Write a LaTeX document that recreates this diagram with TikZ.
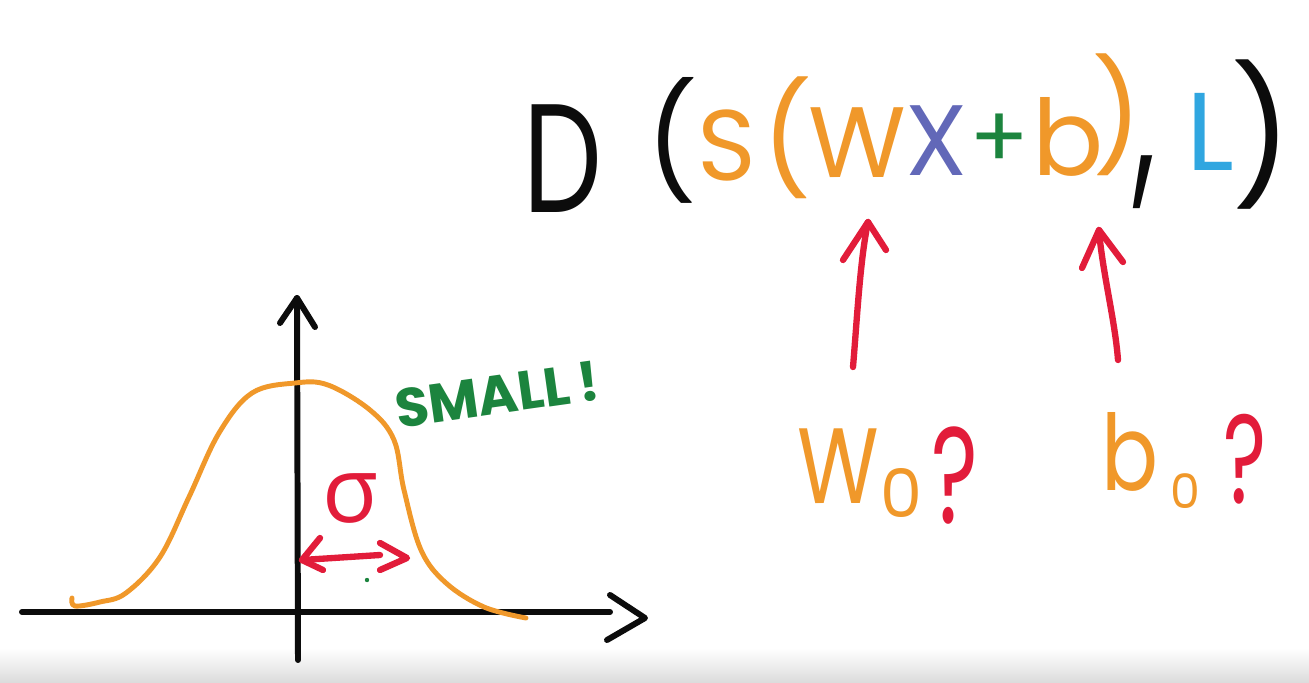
\documentclass[tikz,border=0pt]{standalone}
\usepackage{fontspec}
\setmainfont{Poppins}
\newfontfamily\greekfont{Open Sans}
\definecolor{cOrange}{RGB}{240,152,42}
\definecolor{cRed}{RGB}{226,28,58}
\definecolor{cGreen}{RGB}{28,132,62}
\definecolor{cPurple}{RGB}{98,104,184}
\definecolor{cBlue}{RGB}{48,166,224}
\definecolor{cInk}{RGB}{12,12,12}
\tikzset{
  glyph/.style={inner sep=0pt, outer sep=0pt, anchor=base},
  ink/.style={line width=3.4pt, line cap=round, line join=round, draw=cInk},
  bell/.style={line width=2.8pt, line cap=round, line join=round, draw=cOrange},
  redline/.style={line width=3.6pt, line cap=round, line join=round, draw=cRed},
}
\newcommand{\fs}[1]{\fontsize{#1}{#1}\selectfont}
\begin{document}
\begin{tikzpicture}[x=0.02cm,y=-0.02cm]
\useasboundingbox (0,0) rectangle (1309,683);
\fill[white] (0,0) rectangle (1309,683);
\shade[top color=white, bottom color=black!14] (0,648) rectangle (1309,683);

% ---------- formula ----------
\node[glyph, text=cInk, xscale=0.72] (D) at (563,212) {\fs{88}D};
\node[glyph, text=cInk] (p1) at (672,182) {\fs{64}(};
\node[glyph, text=cOrange] (S) at (727,180) {\fs{57}S};
\node[glyph, text=cOrange] (p2) at (787,178) {\fs{62}(};
\node[glyph, text=cOrange] (W) at (857,177) {\fs{57}W};
\node[glyph, text=cPurple] (X) at (937,175) {\fs{57}X};
\node[glyph, text=cGreen] (plus) at (999,168) {\fs{50}+};
\node[glyph, text=cOrange] (b) at (1068,175) {\fs{60}b};
\node[glyph, text=cOrange] (p3) at (1117,155) {\fs{62})};
\node[glyph, text=cInk, xscale=0.8, yscale=1.4] (comma) at (1145,180) {\fs{80},};
\node[glyph, text=cBlue] (L) at (1210,170) {\fs{63}L};
\node[glyph, text=cInk] (p4) at (1262,184) {\fs{76})};

% ---------- W0 ? and b0 ? ----------
\node[glyph, text=cOrange, xscale=0.78] (W0) at (838,503) {\fs{61}W};
\node[glyph, text=cOrange] (W0s) at (901,517) {\fs{38}0};
\node[glyph, text=cRed, xscale=0.65] (q1) at (955,523) {\fs{78}?};
\node[glyph, text=cOrange, xscale=0.8] (b0) at (1130,490) {\fs{60}b};
\node[glyph, text=cOrange] (b0s) at (1185,508) {\fs{27}0};
\node[glyph, text=cRed, xscale=0.65] (q2) at (1245,503) {\fs{72}?};

% red arrows
\coordinate (a1tail) at (853,367);
\coordinate (a1tip) at (868,222);
\coordinate (a1l) at (843,260);
\coordinate (a1r) at (886,250);
\draw[redline] (a1tail) .. controls (857,320) and (860,260) .. (a1tip);
\draw[redline] (a1l) -- (a1tip) -- (a1r);
\coordinate (a2tail) at (1118,360);
\coordinate (a2tip) at (1099,230);
\coordinate (a2l) at (1082,268);
\coordinate (a2r) at (1123,262);
\draw[redline] (a2tail) .. controls (1115,320) and (1102,270) .. (a2tip);
\draw[redline] (a2l) -- (a2tip) -- (a2r);

% ---------- plot ----------
\coordinate (xl) at (22,612);
\coordinate (xr) at (610,612);
\coordinate (xt) at (645,618);
\draw[ink] (xl) -- (xr);
\draw[ink] (610,595) -- (xt) -- (607,640);
\coordinate (yb) at (298,660);
\coordinate (yt) at (297,298);
\draw[ink] (yb) -- (yt);
\draw[ink] (280,323) -- (yt) -- (315,327);

\draw[bell] plot[smooth, tension=0.6] coordinates {(72,598) (75,606) (100,602) (126,593) (160,557) (189,497) (219,433) (252,393) (295,383) (328,385) (370,410) (394,440) (404,490) (421,550) (446,583) (484,607) (526,618)};

\node[glyph, text=cGreen, rotate=8, anchor=base west] (small) at (398,428) {\bfseries\fs{31}SMALL\,!};

\node[glyph, text=cRed] (sigma) at (350,522) {\greekfont\fs{52}σ};

\coordinate (sl) at (302,560);
\coordinate (sr) at (407,558);
\draw[redline] (sl) -- (380,555);
\draw[redline] (320,538) -- (sl) -- (323,570);
\draw[redline] (380,543) -- (sr) -- (380,570);
\fill[cGreen] (367,580) circle (2.2);
\end{tikzpicture}
\end{document}
